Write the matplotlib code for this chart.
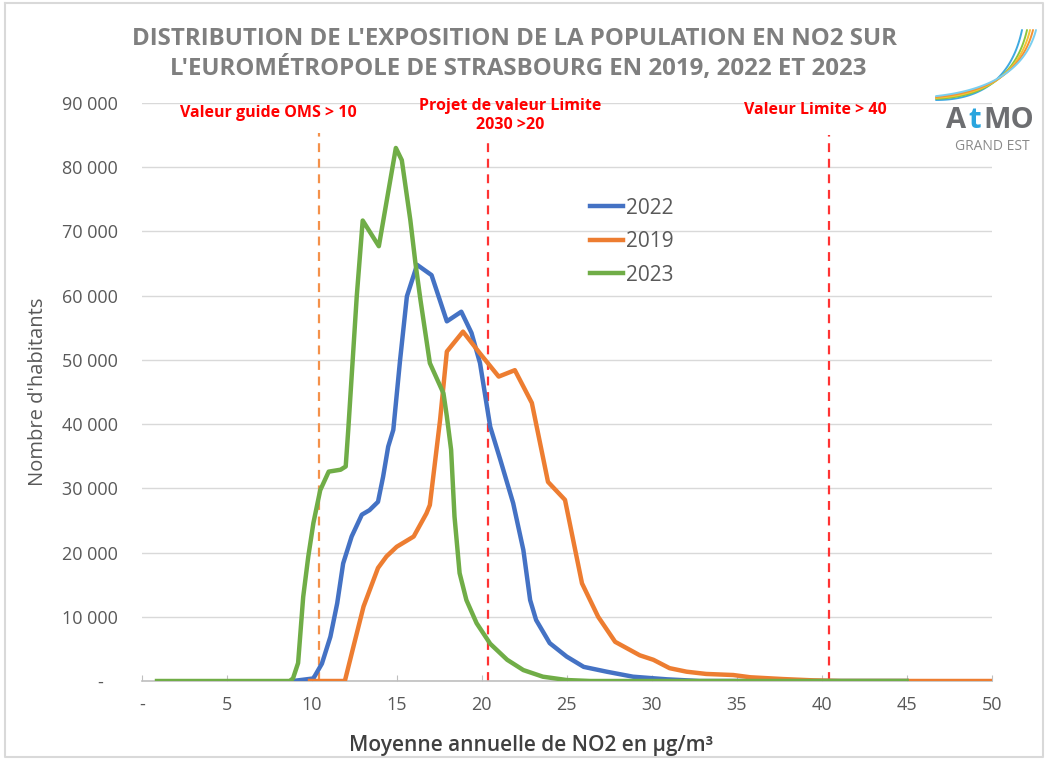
import numpy as np
import matplotlib
matplotlib.use("Agg")
import matplotlib.pyplot as plt
from matplotlib.ticker import FuncFormatter

plt.rcParams['font.family'] = ['Open Sans', 'DejaVu Sans']

# --- data (NO2 in ug/m3, inhabitants) ---
x_2022 = [8.9, 10.1, 10.6, 11.1, 11.5, 11.85, 12.35, 12.95, 13.4, 13.9, 14.2, 14.5, 14.8,
          15.2, 15.6, 16.2, 17.05, 17.95, 18.8, 19.4, 19.9, 20.5, 21.1, 21.85, 22.45,
          22.85, 23.2, 24.0, 25.0, 26.0, 27.35, 28.9, 30.9, 32.8, 45]
y_2022 = [0, 400, 2700, 6900, 12100, 18300, 22500, 25900, 26600, 27900, 31800, 36500, 39100,
          50000, 59900, 64800, 63200, 56000, 57500, 54200, 49500, 39600, 34400, 27700, 20400,
          12600, 9500, 5900, 3800, 2200, 1450, 670, 260, 0, 0]

x_2019 = [9.9, 11.95, 12.45, 13.05, 13.9, 14.4, 15.0, 16.0, 16.75, 16.95, 17.55, 17.95,
          18.9, 19.9, 21.0, 21.95, 22.95, 23.9, 24.9, 25.9, 26.85, 27.85, 29.3, 30.1,
          31.05, 32.05, 33.2, 34.8, 35.8, 37.75, 39.5, 41.1, 50]
y_2019 = [0, 0, 5300, 11600, 17600, 19400, 20900, 22500, 26100, 27400, 40600, 51300,
          54400, 51000, 47400, 48400, 43300, 31000, 28200, 15200, 10000, 6100, 4000, 3300,
          2000, 1450, 1100, 930, 580, 300, 100, 0, 0]

x_2023 = [0.9, 8.7, 8.9, 9.2, 9.5, 9.8, 10.1, 10.5, 11.0, 11.7, 12.0, 12.15, 12.65, 13.0,
          13.95, 14.95, 15.3, 15.8, 16.1, 16.4, 16.95, 17.75, 17.95, 18.2, 18.4, 18.7,
          19.1, 19.7, 20.5, 21.5, 22.45, 23.6, 25.0, 26.4, 45]
y_2023 = [0, 0, 400, 2800, 13100, 19400, 24600, 29700, 32600, 32900, 33400, 39100, 59900, 71700,
          67700, 83000, 81100, 71800, 65100, 59300, 49500, 44800, 41200, 36000, 25600, 16800,
          12600, 9000, 5800, 3300, 1700, 670, 150, 0, 0]

seuils = [10.4, 20.4, 40.4]
seuil_labels = ["Valeur guide OMS > 10", "Projet de valeur Limite\n2030 >20", "Valeur Limite > 40"]

xticks = [0, 5, 10, 15, 20, 25, 30, 35, 40, 45, 50]
yticks = [0, 10000, 20000, 30000, 40000, 50000, 60000, 70000, 80000, 90000]

W, H = 1046, 760
fig = plt.figure(figsize=(W / 100, H / 100), dpi=100)
fig.patch.set_facecolor("white")

x0, x1 = 141.7, 991.7
ytop, ybot = 103, 681
ax = fig.add_axes([x0 / W, 1 - ybot / H, (x1 - x0) / W, (ybot - ytop) / H])
ax.set_xlim(0, 50)
ax.set_ylim(0, 90000)

ax.plot(x_2022, y_2022, color="#4472C4", lw=3.2, label="2022", solid_joinstyle="round", zorder=3)
ax.plot(x_2019, y_2019, color="#ED7D31", lw=3.2, label="2019", solid_joinstyle="round", zorder=3)
ax.plot(x_2023, y_2023, color="#70AD47", lw=3.2, label="2023", solid_joinstyle="round", zorder=3)

# threshold lines
ax.vlines(seuils[0], 0, 85300, colors="#F4914A", linestyles=(0, (4, 3)), lw=1.6, zorder=2)
ax.vlines(seuils[1], 0, 84500, colors="#FF3333", linestyles=(0, (4, 3)), lw=1.6, zorder=2)
ax.vlines(seuils[2], 0, 85000, colors="#FF3333", linestyles=(0, (4, 3)), lw=1.6, zorder=2)

ax.text(7.45, 88450, seuil_labels[0], color="#FF0000", fontsize=11.5, fontweight="bold",
        ha="center", va="center")
ax.text(21.7, 88050, seuil_labels[1], color="#FF0000", fontsize=11.5, fontweight="bold",
        ha="center", va="center", linespacing=1.3)
ax.text(39.6, 88900, seuil_labels[2], color="#FF0000", fontsize=11.5, fontweight="bold",
        ha="center", va="center")

# axes styling
ax.set_yticks(yticks)
ax.set_xticks(xticks)
ax.yaxis.set_major_formatter(FuncFormatter(lambda v, p: "-   " if v == 0 else f"{v:,.0f}".replace(",", " ")))
ax.xaxis.set_major_formatter(FuncFormatter(lambda v, p: "-" if v == 0 else f"{v:.0f}"))
ax.grid(axis="y", color="#D9D9D9", lw=1)
ax.set_axisbelow(True)
for s in ["top", "right", "left"]:
    ax.spines[s].set_visible(False)
ax.spines["bottom"].set_color("#BFBFBF")
ax.spines["bottom"].set_linewidth(1.2)
ax.tick_params(axis="y", length=0, pad=17, labelsize=13, labelcolor="#595959")
ax.tick_params(axis="x", direction="in", length=4, color="#BFBFBF", pad=11,
               labelsize=13, labelcolor="#595959")

fig.text(38 / W, 1 - 392 / H, "Nombre d'habitants", rotation=90, fontsize=14.5,
         color="#595959", ha="center", va="center")
fig.text(531 / W, 1 - 745 / H, "Moyenne annuelle de NO2 en µg/m³", fontsize=15,
         fontweight="semibold", color="#404040", ha="center", va="center")

leg = ax.legend(loc="upper left", bbox_to_anchor=(571 / W, 1 - 179 / H),
                bbox_transform=fig.transFigure, frameon=False, fontsize=15,
                handlelength=1.6, handletextpad=0.15, labelspacing=0.6)
for t in leg.get_texts():
    t.set_color("#595959")

# title
fig.text(515 / W, 1 - 39 / H, "DISTRIBUTION DE L'EXPOSITION DE LA POPULATION EN NO2 SUR",
         fontsize=17.3, fontweight="bold", color="#7F7F7F", ha="center", va="center")
fig.text(518 / W, 1 - 69 / H, "L'EUROMÉTROPOLE DE STRASBOURG EN 2019, 2022 ET 2023",
         fontsize=17.3, fontweight="bold", color="#7F7F7F", ha="center", va="center")

# overlay for border and logo (pixel coords)
deco = fig.add_axes([0, 0, 1, 1], zorder=-1)
deco.set_xlim(0, W)
deco.set_ylim(H, 0)
deco.axis("off")
deco.plot([5, 5, W - 3, W - 3, 5], [3, H - 3, H - 3, 3, 3], color="#D9D9D9", lw=1.5)

ov = fig.add_axes([0, 0, 1, 1], zorder=5)
ov.set_xlim(0, W)
ov.set_ylim(H, 0)
ov.axis("off")
t = np.linspace(0, 1, 60)
swoosh = [("#3FA9E0", 0, -8), ("#8CC63F", 4, -3), ("#F6C333", 7, 0), ("#F39233", 10, 3), ("#7ACFF0", 13, 6)]
for c, dy, dx in swoosh:
    p0 = np.array([936.0, 100.0 - dy * 0.3])
    p1 = np.array([1015.0 + dx, 100.0 - dy])
    p2 = np.array([1030.0 + dx, 30.0])
    pts = (1 - t)[:, None] ** 2 * p0 + 2 * ((1 - t) * t)[:, None] * p1 + (t ** 2)[:, None] * p2
    ov.plot(pts[:, 0], pts[:, 1], color=c, lw=1.4, solid_capstyle="round")
ov.text(946, 121, "A", fontsize=21, fontweight="bold", color="#6D6E71", ha="left", va="center")
ov.text(968.5, 121, "t", fontsize=21, fontweight="bold", color="#2AA5DE", ha="left", va="center")
ov.text(983, 121, "MO", fontsize=21, fontweight="bold", color="#6D6E71", ha="left", va="center")
ov.text(992, 147, "GRAND EST", fontsize=10, color="#8A8A8A", ha="center", va="center")

fig.savefig("out.png", dpi=100, facecolor="white")
